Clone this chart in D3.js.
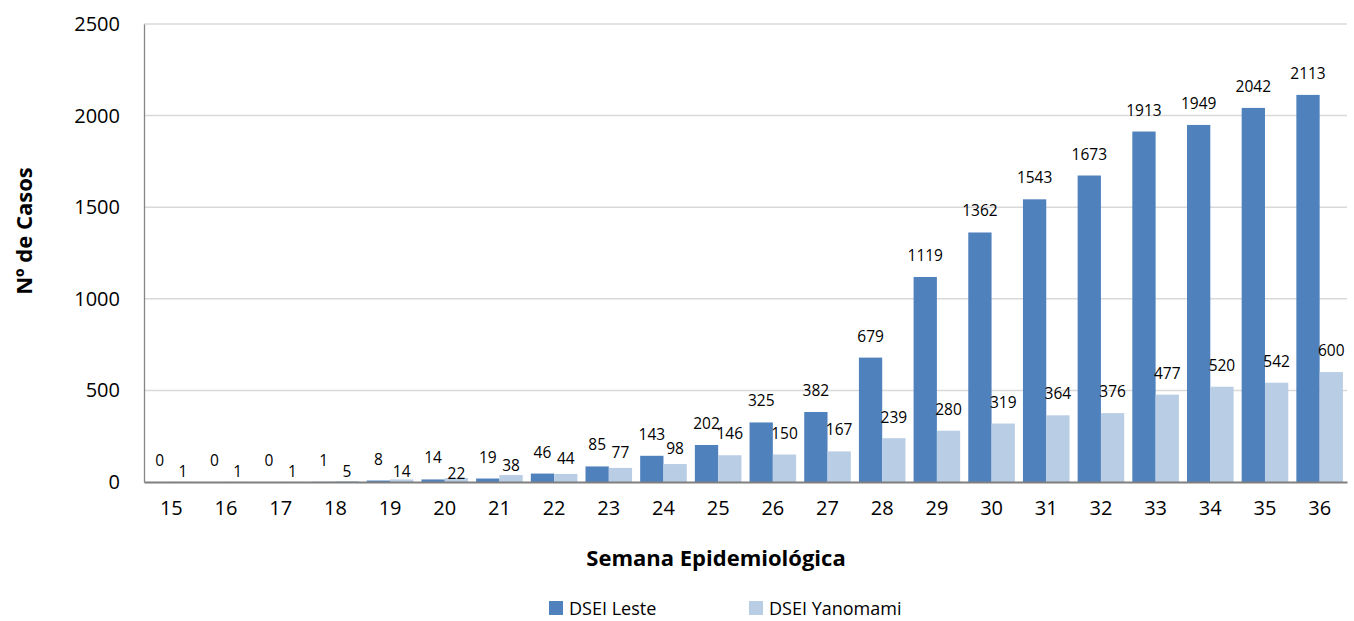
<!DOCTYPE html>
<html lang="pt">
<head>
<meta charset="UTF-8">
<title>Casos por semana epidemiológica</title>
<script src="https://d3js.org/d3.v7.min.js"></script>
<style>
body { margin: 0; background: #fff; }
svg, svg text { font-family: "Open Sans", "Liberation Sans", Arial, sans-serif; }
.tick text { fill: #000; }
</style>
</head>
<body>
<div id="chart"></div>
<script>
// data
const semanas = [15, 16, 17, 18, 19, 20, 21, 22, 23, 24, 25, 26, 27, 28, 29, 30, 31, 32, 33, 34, 35, 36];
const leste = [0, 0, 0, 1, 8, 14, 19, 46, 85, 143, 202, 325, 382, 679, 1119, 1362, 1543, 1673, 1913, 1949, 2042, 2113];
const yanomami = [1, 1, 1, 5, 14, 22, 38, 44, 77, 98, 146, 150, 167, 239, 280, 319, 364, 376, 477, 520, 542, 600];
const yTicks = [0, 500, 1000, 1500, 2000, 2500];
const seriesNames = ["DSEI Leste", "DSEI Yanomami"];
const seriesColors = ["#4f81bd", "#b9cde5"];

// how far (px) each value label sits above its bar top
const lesteLift = semanas.map(() => 22);
const yanomamiLift = [11, 11, 11, 10, 8, 5, 10, 16, 16, 16, 22, 22, 22, 21, 22, 22, 22, 22, 22, 22, 22, 22];

const W = 1354, H = 621;
const margin = { left: 144, right: 7, top: 24, bottom: 139 };
const font = "'Open Sans', 'Liberation Sans', Arial, sans-serif";

const svg = d3.select("#chart").append("svg")
    .attr("width", W)
    .attr("height", H);

const x = d3.scaleBand()
    .domain(semanas)
    .range([margin.left, W - margin.right])
    .paddingInner(0.148)
    .paddingOuter(0.074);

const xs = d3.scaleBand()
    .domain(seriesNames)
    .range([0, x.bandwidth()]);

const y = d3.scaleLinear()
    .domain([0, 2500])
    .range([H - margin.bottom, margin.top]);

// gridlines
svg.append("g")
    .selectAll("line")
    .data(yTicks.filter(d => d > 0))
    .join("line")
    .attr("x1", margin.left)
    .attr("x2", W - margin.right)
    .attr("y1", d => y(d))
    .attr("y2", d => y(d))
    .attr("stroke", "#d9d9d9")
    .attr("stroke-width", 1.5);

// y axis
const yAxis = svg.append("g")
    .attr("transform", `translate(${margin.left},0)`)
    .call(d3.axisLeft(y).tickValues(yTicks).tickFormat(d3.format("d")).tickSize(0).tickPadding(24))
    .attr("font-family", font);
yAxis.select(".domain").attr("stroke", "#868686").attr("stroke-width", 1.3);
yAxis.selectAll("text").attr("font-size", 20);

// bars
const rows = semanas.map((s, i) => ({ s, vals: [leste[i], yanomami[i]], lifts: [lesteLift[i], yanomamiLift[i]] }));

const groups = svg.append("g")
    .selectAll("g")
    .data(rows)
    .join("g")
    .attr("transform", d => `translate(${x(d.s)},0)`);

groups.selectAll("rect")
    .data(d => d.vals.map((v, k) => ({ v, k })))
    .join("rect")
    .attr("x", d => xs(seriesNames[d.k]))
    .attr("width", xs.bandwidth())
    .attr("y", d => y(d.v))
    .attr("height", d => y(0) - y(d.v))
    .attr("fill", d => seriesColors[d.k]);

groups.selectAll("text")
    .data(d => d.vals.map((v, k) => ({ v, k, lift: d.lifts[k] })))
    .join("text")
    .attr("x", d => xs(seriesNames[d.k]) + xs.bandwidth() / 2)
    .attr("y", d => y(d.v) - d.lift)
    .attr("text-anchor", "middle")
    .attr("dominant-baseline", "central")
    .attr("font-size", 15.5)
    .attr("fill", "#000")
    .text(d => d.v);

// x axis
const xAxis = svg.append("g")
    .attr("transform", `translate(0,${y(0)})`)
    .call(d3.axisBottom(x).tickSize(0).tickPadding(19).tickSizeOuter(0))
    .attr("font-family", font);
xAxis.select(".domain").attr("stroke", "#7f7f7f").attr("stroke-width", 2);
xAxis.selectAll("text").attr("font-size", 20);

// axis titles
svg.append("text")
    .attr("x", 716)
    .attr("y", 557)
    .attr("text-anchor", "middle")
    .attr("dominant-baseline", "central")
    .attr("font-size", 22)
    .attr("font-weight", "bold")
    .text("Semana Epidemiológica");

svg.append("text")
    .attr("transform", "translate(23,231) rotate(-90)")
    .attr("text-anchor", "middle")
    .attr("dominant-baseline", "central")
    .attr("font-size", 22)
    .attr("font-weight", "bold")
    .text("Nº de Casos");

// legend
const legendX = [549, 749];
const legend = svg.append("g")
    .selectAll("g")
    .data(seriesNames)
    .join("g")
    .attr("transform", (d, i) => `translate(${legendX[i]},601)`);

legend.append("rect")
    .attr("width", 14)
    .attr("height", 14)
    .attr("fill", (d, i) => seriesColors[i]);

legend.append("text")
    .attr("x", 20)
    .attr("y", 7)
    .attr("dominant-baseline", "central")
    .attr("font-size", 18)
    .text(d => d);
</script>
</body>
</html>
